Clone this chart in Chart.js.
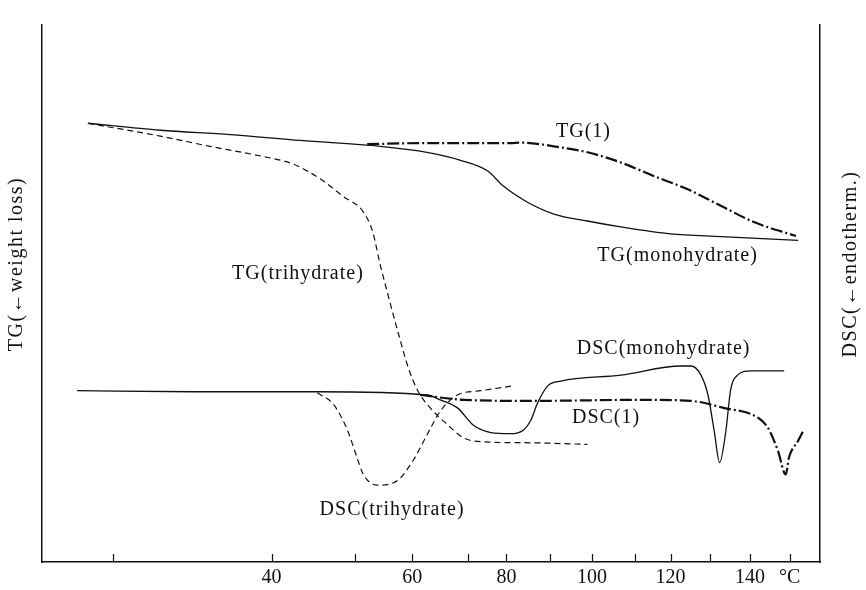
<!DOCTYPE html>
<html>
<head>
<meta charset="utf-8">
<script src="https://cdn.jsdelivr.net/npm/chart.js@4/dist/chart.umd.min.js"></script>
<style>
    body { margin: 0; background: #fff; }
    #wrap { width: 866px; height: 590px; }
</style>
</head>
<body>
<div id="wrap"><canvas id="thermoChart"></canvas></div>
<script>
// x is the recorder chart position (time axis, 0-100), y is the pen deflection (0-100)
// temperature ticks sit at uneven chart positions
const tickPos = [9.1, 29.5, 40.2, 47.6, 54.7, 59.7, 65.3, 70.7, 76.2, 80.8, 85.8, 91.0, 96.1];
const tickLabels = ['', '40', '', '60', '', '80', '', '100', '', '120', '', '140', '°C'];

// TG(monohydrate) - solid
const tgMonoX = [5.9, 15.2, 24.2, 33.2, 43.5, 48.6, 53.8, 57.3, 59.3, 62.4, 65.8, 70.1, 74.4, 80.8, 87.3, 97.2];
const tgMonoY = [81.7, 80.4, 79.6, 78.5, 77.4, 76.5, 74.8, 72.8, 70.0, 67.0, 64.8, 63.5, 62.4, 61.1, 60.6, 59.9];

// TG(1) - dash dot
const tg1X = [41.8, 48.6, 54.4, 60.2, 61.5, 66.7, 70.1, 74.4, 78.6, 83.0, 87.3, 91.5, 96.9];
const tg1Y = [77.8, 78.0, 78.0, 78.0, 78.1, 77.2, 76.3, 74.4, 71.9, 69.4, 66.3, 63.3, 60.7];

// TG(trihydrate) - dashed
const tgTriX = [5.9, 15.2, 21.6, 28.1, 32.3, 35.8, 38.7, 41.3, 42.5, 43.5, 44.5, 45.8, 47.1, 48.3, 49.9, 52.1, 54.2, 56.4, 62.8, 70.1];
const tgTriY = [81.7, 79.3, 77.4, 75.6, 74.1, 71.3, 68.1, 65.2, 61.5, 55.2, 49.6, 42.6, 36.1, 31.9, 28.7, 25.6, 23.1, 22.4, 22.2, 21.9];

// DSC(monohydrate) - solid
const dscMonoX = [4.5, 19.4, 35.4, 49.5, 51.2, 53.4, 55.5, 57.7, 60.2, 61.9, 62.8, 63.7, 65.0, 66.7, 74.4, 82.1, 83.4, 84.7, 85.6, 86.4, 87.1, 87.9, 88.5, 89.4, 91.1, 95.4];
const dscMonoY = [31.9, 31.7, 31.7, 31.1, 30.2, 28.7, 25.4, 24.1, 23.9, 24.6, 26.3, 29.6, 32.8, 33.7, 34.8, 36.5, 36.5, 34.8, 31.1, 24.4, 18.5, 24.4, 31.9, 34.8, 35.6, 35.6];

// DSC(1) - dash dot
const dsc1X = [48.6, 54.2, 62.8, 77.0, 83.4, 87.6, 92.0, 93.3, 94.6, 95.6, 96.0, 97.2, 97.9];
const dsc1Y = [31.1, 30.2, 30.0, 30.2, 30.0, 28.7, 26.9, 25.0, 20.7, 16.3, 19.4, 22.6, 24.6];

// DSC(trihydrate) - dashed
const dscTriX = [35.4, 37.5, 39.3, 40.5, 41.3, 43.1, 45.7, 47.7, 49.5, 51.2, 53.4, 56.4, 60.6];
const dscTriY = [31.5, 29.3, 24.4, 19.4, 16.3, 14.3, 15.2, 18.9, 23.7, 28.1, 31.1, 31.9, 32.8];

// curve captions
const captionText = ['TG(1)', 'TG(monohydrate)', 'TG(trihydrate)', 'DSC(monohydrate)', 'DSC(1)', 'DSC(trihydrate)'];
const captionX = [69.6, 81.7, 32.9, 79.9, 72.5, 45.0];
const captionY = [80.2, 57.0, 53.7, 39.8, 26.9, 9.8];

const FONT = '20px "Liberation Serif", "DejaVu Serif", serif';
const dashDot = [12, 3, 2, 3];
const dashed = [6, 4];

function pts(xs, ys) {
    return xs.map((x, i) => ({ x: x, y: ys[i] }));
}

function curve(label, xs, ys, dash, width) {
    return {
        label: label,
        data: pts(xs, ys),
        borderColor: '#111',
        borderWidth: width,
        borderDash: dash,
        pointRadius: 0,
        fill: false,
        cubicInterpolationMode: 'monotone'
    };
}

// captions, axis titles and inward tick marks
const decorations = {
    id: 'decorations',
    afterDraw(chart) {
        const ctx = chart.ctx;
        const xs = chart.scales.x;
        const ys = chart.scales.y;
        const area = chart.chartArea;
        ctx.save();
        ctx.strokeStyle = '#111';
        ctx.lineWidth = 1.2;
        tickPos.forEach(p => {
            const px = Math.round(xs.getPixelForValue(p)) + 0.5;
            ctx.beginPath();
            ctx.moveTo(px, area.bottom);
            ctx.lineTo(px, area.bottom - 8);
            ctx.stroke();
        });
        ctx.fillStyle = '#111';
        ctx.font = FONT;
        ctx.letterSpacing = '1px';
        ctx.textAlign = 'center';
        ctx.textBaseline = 'middle';
        captionText.forEach((t, i) => {
            ctx.fillText(t, xs.getPixelForValue(captionX[i]), ys.getPixelForValue(captionY[i]));
        });
        ctx.letterSpacing = '1.5px';
        const sides = [['TG(←weight loss)', 17], ['DSC(←endotherm.)', 851]];
        sides.forEach(([t, x]) => {
            ctx.save();
            ctx.translate(x, 264);
            ctx.rotate(-Math.PI / 2);
            ctx.fillText(t, 0, 0);
            ctx.restore();
        });
        ctx.restore();
    }
};

const ctx = document.getElementById('thermoChart').getContext('2d');
new Chart(ctx, {
    type: 'line',
    data: {
        datasets: [
            curve('TG(monohydrate)', tgMonoX, tgMonoY, [], 1.3),
            curve('TG(1)', tg1X, tg1Y, dashDot, 2.2),
            curve('TG(trihydrate)', tgTriX, tgTriY, dashed, 1.2),
            curve('DSC(monohydrate)', dscMonoX, dscMonoY, [], 1.3),
            curve('DSC(1)', dsc1X, dsc1Y, dashDot, 2.2),
            curve('DSC(trihydrate)', dscTriX, dscTriY, dashed, 1.2)
        ]
    },
    options: {
        responsive: true,
        maintainAspectRatio: false,
        animation: false,
        layout: {
            padding: { left: 42, right: 46, top: 25, bottom: 0 }
        },
        plugins: {
            legend: { display: false },
            tooltip: { enabled: false }
        },
        scales: {
            x: {
                type: 'linear',
                min: 0,
                max: 100,
                afterBuildTicks: axis => {
                    axis.ticks = tickPos.map(v => ({ value: v }));
                },
                afterFit: axis => { axis.height = 28; },
                grid: { display: false, drawTicks: false, tickLength: 0 },
                border: { display: true, color: '#111', width: 1.5 },
                ticks: {
                    autoSkip: false,
                    maxRotation: 0,
                    padding: 4,
                    color: '#111',
                    font: { family: '"Liberation Serif", "DejaVu Serif", serif', size: 20 },
                    callback: (value, index) => tickLabels[index]
                }
            },
            y: {
                position: 'left',
                min: 0,
                max: 100,
                afterFit: axis => { axis.width = 0; },
                grid: { display: false, drawTicks: false },
                border: { display: true, color: '#111', width: 1.5 },
                ticks: { display: false }
            },
            y2: {
                position: 'right',
                min: 0,
                max: 100,
                afterFit: axis => { axis.width = 0; },
                grid: { display: false, drawTicks: false },
                border: { display: true, color: '#111', width: 1.5 },
                ticks: { display: false }
            }
        }
    },
    plugins: [decorations]
});
</script>
</body>
</html>
